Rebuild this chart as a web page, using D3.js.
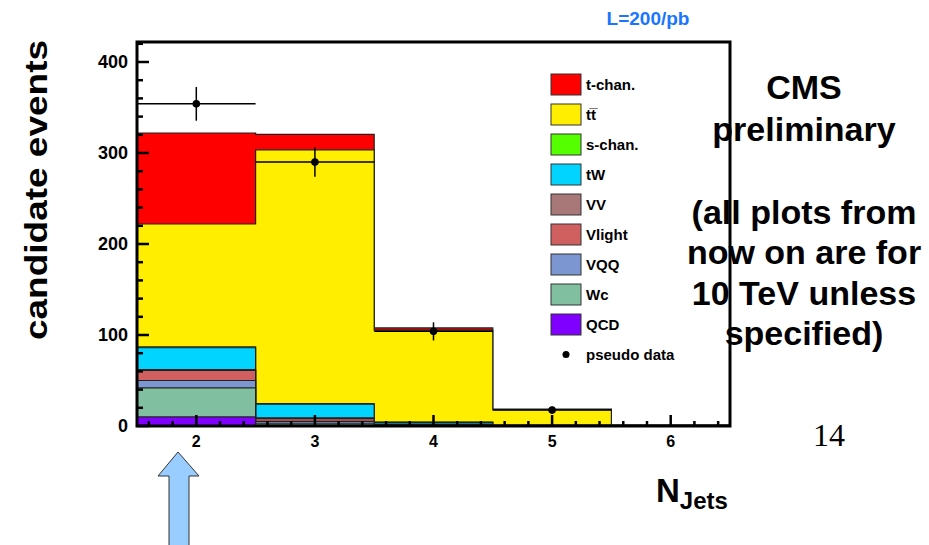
<!DOCTYPE html>
<html><head><meta charset="utf-8">
<script src="https://cdn.jsdelivr.net/npm/d3@7"></script>
<style>body{margin:0;background:#fff}svg{display:block}text{font-family:"Liberation Sans",Arial,sans-serif}</style>
</head><body><svg id="c" width="929" height="545"></svg>
<script>
// ---- data ----
const bins = [2, 3, 4, 5, 6];
const seriesNames = ["QCD", "Wc", "VQQ", "Vlight", "VV", "tW", "s-chan.", "tt\u0305", "t-chan."];
const seriesColors = ["#8000ff", "#80c0a0", "#7b96d0", "#d06060", "#a87878", "#00d4ff", "#55ff00", "#ffee00", "#ff0000"];
const QCD    = [10, 1, 0, 0, 0];
const Wc     = [32, 2, 0.5, 0, 0];
const VQQ    = [8, 2, 0.5, 0, 0];
const Vlight = [11, 3, 0.5, 0.2, 0];
const VV     = [1, 1, 0.5, 0.2, 0.2];
const tW     = [24, 15, 2, 0.6, 0.2];
const schan  = [1, 0.5, 0.3, 0.1, 0];
const ttbar  = [135, 279, 101, 17, 0.6];
const tchan  = [100, 17, 2.5, 0.4, 0.1];
const dataY   = [354, 290, 104, 17.5, null];
const dataErr = [18.5, 16, 10, 4, 0];
const yTicks = [0, 100, 200, 300, 400];
const xTicks = [2, 3, 4, 5, 6];
const legendNames = ["t-chan.", "tt\u0305", "s-chan.", "tW", "VV", "Vlight", "VQQ", "Wc", "QCD"];

const series = [QCD, Wc, VQQ, Vlight, VV, tW, schan, ttbar, tchan];

const svg = d3.select("#c");
const x = d3.scaleLinear().domain([1.5, 6.5]).range([137, 730]);
const y = d3.scaleLinear().domain([0, 400]).range([426, 62]);

// stacked
const table = bins.map((b, i) => { const o = {bin: b}; seriesNames.forEach((n, k) => o[n] = series[k][i]); return o; });
const stack = d3.stack().keys(seriesNames)(table);

// draw cumulative steps top-down like ROOT
const hw = 0.5;
for (let k = stack.length - 1; k >= 0; k--) {
  const layer = stack[k];
  const pts = [];
  pts.push([x(1.5), y(0)]);
  layer.forEach((d, i) => {
    pts.push([x(bins[i] - hw), y(d[1])]);
    pts.push([x(bins[i] + hw), y(d[1])]);
  });
  pts.push([x(6.5), y(0)]);
  svg.append("path")
    .attr("d", d3.line()(pts) + "Z")
    .attr("fill", seriesColors[k])
    .attr("stroke", "#222")
    .attr("stroke-width", 1.2);
}

// data points
const g = svg.append("g");
bins.forEach((b, i) => {
  if (dataY[i] == null) return;
  g.append("line").attr("x1", x(b - hw)).attr("x2", x(b + hw)).attr("y1", y(dataY[i])).attr("y2", y(dataY[i]))
    .attr("stroke", "#000").attr("stroke-width", 1.5);
  g.append("line").attr("x1", x(b)).attr("x2", x(b)).attr("y1", y(dataY[i] - dataErr[i])).attr("y2", y(dataY[i] + dataErr[i]))
    .attr("stroke", "#000").attr("stroke-width", 1.5);
  g.append("circle").attr("cx", x(b)).attr("cy", y(dataY[i])).attr("r", 3.8).attr("fill", "#000");
});

// frame
const frameTop = y(422);
svg.append("rect").attr("x", x(1.5)).attr("y", frameTop).attr("width", x(6.5) - x(1.5)).attr("height", y(0) - frameTop)
  .attr("fill", "none").attr("stroke", "#000").attr("stroke-width", 3);

// y ticks
const yMinor = d3.range(0, 421, 20);
yMinor.forEach(v => {
  const major = v % 100 === 0;
  svg.append("line").attr("x1", x(1.5)).attr("x2", x(1.5) + (major ? 12 : 6)).attr("y1", y(v)).attr("y2", y(v))
    .attr("stroke", "#000").attr("stroke-width", 2.5);
});
yTicks.forEach(v => {
  svg.append("text").attr("x", 128).attr("y", y(v)).attr("dy", "0.36em").attr("text-anchor", "end")
    .attr("font-size", 18).attr("font-weight", "bold").text(v);
});
// x ticks
const xMinor = d3.range(1.6, 6.45, 0.2);
xMinor.forEach(v => {
  const major = Math.abs(v - Math.round(v)) < 0.01;
  svg.append("line").attr("x1", x(v)).attr("x2", x(v)).attr("y1", y(0)).attr("y2", y(0) - (major ? 11 : 5))
    .attr("stroke", "#000").attr("stroke-width", 2.5);
});
xTicks.forEach(v => {
  svg.append("text").attr("x", x(v)).attr("y", 447).attr("text-anchor", "middle")
    .attr("font-size", 16).attr("font-weight", "bold").text(v);
});

// legend
legendNames.forEach((n, i) => {
  const k = seriesNames.indexOf(n);
  const cy = 84.5 + i * 30;
  svg.append("rect").attr("x", 551).attr("y", cy - 10.5).attr("width", 30).attr("height", 21)
    .attr("fill", seriesColors[k]).attr("stroke", "#333").attr("stroke-width", 1);
  svg.append("text").attr("x", 586).attr("y", cy).attr("dy", "0.35em").attr("font-size", 15).attr("font-weight", "bold").text(n);
});
svg.append("circle").attr("cx", 566).attr("cy", 354.5).attr("r", 3.5).attr("fill", "#000");
svg.append("text").attr("x", 586).attr("y", 354.5).attr("dy", "0.35em").attr("font-size", 15).attr("font-weight", "bold").text("pseudo data");

// titles
svg.append("text").attr("transform", "translate(47,190) rotate(-90)").attr("text-anchor", "middle")
  .attr("font-size", 32).attr("font-weight", "bold")
  .attr("textLength", 300).attr("lengthAdjust", "spacingAndGlyphs").text("candidate events");
const nj = svg.append("text").attr("x", 656).attr("y", 502).attr("font-weight", "bold");
nj.append("tspan").attr("font-size", 33).text("N");
nj.append("tspan").attr("font-size", 24).attr("dy", 7).text("Jets");

svg.append("text").attr("x", 648).attr("y", 25).attr("text-anchor", "middle").attr("font-size", 19)
  .attr("font-weight", "bold").attr("fill", "#1a75ff").text("L=200/pb");

const notes = [["CMS", 99], ["preliminary", 141], ["(all plots from", 224], ["now on are for", 264], ["10 TeV unless", 305], ["specified)", 345]];
notes.forEach(([t, yy]) => {
  svg.append("text").attr("x", 804).attr("y", yy).attr("text-anchor", "middle").attr("font-size", 34)
    .attr("font-weight", "bold").text(t);
});
svg.append("text").attr("x", 829).attr("y", 446).attr("text-anchor", "middle").attr("font-size", 32)
  .style("font-family", "'Liberation Serif', 'DejaVu Serif', serif").text("14");

// arrow
const arrow = [[178, 452], [199, 476], [189, 476], [189, 548], [169, 548], [169, 476], [158, 476]];
svg.append("path").attr("d", d3.line()(arrow) + "Z").attr("fill", "#99ccff").attr("stroke", "#333").attr("stroke-width", 1);
</script></body></html>
